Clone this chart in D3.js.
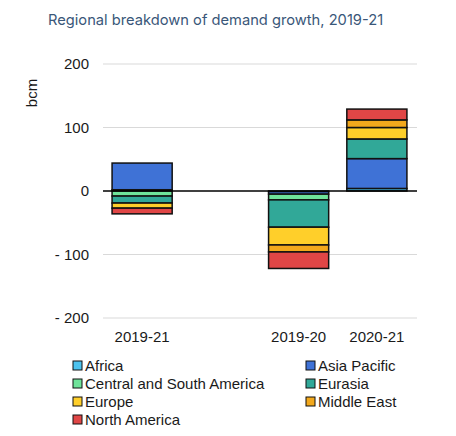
<!DOCTYPE html>
<html>
<head>
<meta charset="utf-8">
<script src="https://cdn.jsdelivr.net/npm/d3@7"></script>
<style>
  body { margin: 0; background: #fff; }
  text { font-family: "Liberation Sans", Arial, sans-serif; }
</style>
</head>
<body>
<div id="chart"></div>
<script>
// Periods on the x axis (one empty slot between the total and the yearly bars)
var periods = ["2019-21", "", "2019-20", "2020-21"];
var regions = ["Africa", "Asia Pacific", "Central and South America", "Eurasia",
               "Europe", "Middle East", "North America"];
var colors = ["#4cc3ef", "#3f72d6", "#6fe39a", "#31a898", "#ffcf2a", "#f2a81c", "#e04646"];

// demand change, bcm, one array per region in period order
var africa      = [2, 0, -1, 4];
var asiaPacific = [42, 0, -4, 47];
var centralSA   = [-8, 0, -9, 0];
var eurasia     = [-11, 0, -43, 31];
var europe      = [-8, 0, -28, 18];
var middleEast  = [0, 0, -11, 12];
var northAm     = [-9, 0, -26, 17];

var yTicks = [200, 100, 0, -100, -200];

var svgWidth = 456, svgHeight = 436;

var svg = d3.select("#chart").append("svg")
    .attr("width", svgWidth)
    .attr("height", svgHeight);

var series = [africa, asiaPacific, centralSA, eurasia, europe, middleEast, northAm];
var table = periods.map(function(p, i) {
  var row = { period: p };
  regions.forEach(function(r, j) { row[r] = series[j][i]; });
  return row;
});

var x = d3.scaleBand()
    .domain(periods)
    .range([103, 416])
    .paddingInner(0.232)
    .paddingOuter(0.116);

var y = d3.scaleLinear()
    .domain([-200, 200])
    .range([318, 64]);

// title
svg.append("text")
    .attr("x", 48)
    .attr("y", 25)
    .attr("fill", "#3a5779")
    .style("font-family", "Inter, sans-serif")
    .style("font-size", "14.7px")
    .text("Regional breakdown of demand growth, 2019-21");

// grid lines
svg.append("g").selectAll("line")
    .data(yTicks.filter(d => d !== 0))
    .enter().append("line")
    .attr("x1", 103).attr("x2", 417)
    .attr("y1", d => y(d)).attr("y2", d => y(d))
    .attr("stroke", "#d9d9d9")
    .attr("stroke-width", 1);

// y tick labels
svg.append("g").selectAll("text")
    .data(yTicks)
    .enter().append("text")
    .attr("x", 89)
    .attr("y", d => y(d) + 5)
    .attr("text-anchor", "end")
    .style("font-size", "15px")
    .attr("fill", "#1a1a1a")
    .text(d => d < 0 ? "- " + Math.abs(d) : d);

svg.append("text")
    .attr("transform", "translate(37, 93) rotate(-90)")
    .attr("text-anchor", "middle")
    .style("font-size", "15px")
    .attr("fill", "#1a1a1a")
    .text("bcm");

// stacked bars
var stack = d3.stack()
    .keys(regions)
    .offset(d3.stackOffsetDiverging);

var layers = svg.append("g").selectAll("g")
    .data(stack(table))
    .enter().append("g")
    .attr("fill", (d, i) => colors[i]);

layers.selectAll("rect")
    .data(d => d.filter(s => s.data.period !== "" && s[1] - s[0] !== 0))
    .enter().append("rect")
    .attr("x", d => x(d.data.period))
    .attr("width", x.bandwidth())
    .attr("y", d => y(d[1]))
    .attr("height", d => y(d[0]) - y(d[1]))
    .attr("stroke", "#111")
    .attr("stroke-width", 1.5);

// zero line
svg.append("line")
    .attr("x1", 103).attr("x2", 417)
    .attr("y1", y(0)).attr("y2", y(0))
    .attr("stroke", "#000")
    .attr("stroke-width", 1.5);

// x labels
svg.append("g").selectAll("text")
    .data(periods.filter(p => p !== ""))
    .enter().append("text")
    .attr("x", d => x(d) + x.bandwidth() / 2)
    .attr("y", 342)
    .attr("text-anchor", "middle")
    .style("font-size", "15px")
    .attr("fill", "#1a1a1a")
    .text(d => d);

// legend, two columns
var legend = svg.append("g").selectAll("g")
    .data(regions)
    .enter().append("g")
    .attr("transform", (d, i) => "translate(" + (i % 2 === 0 ? 73 : 306) + "," + (361 + Math.floor(i / 2) * 18) + ")");

legend.append("rect")
    .attr("width", 9).attr("height", 9)
    .attr("fill", (d, i) => colors[i])
    .attr("stroke", "#111")
    .attr("stroke-width", 1);

legend.append("text")
    .attr("x", 12)
    .attr("y", 10)
    .style("font-size", "15px")
    .attr("fill", "#1a1a1a")
    .text(d => d);
</script>
</body>
</html>
